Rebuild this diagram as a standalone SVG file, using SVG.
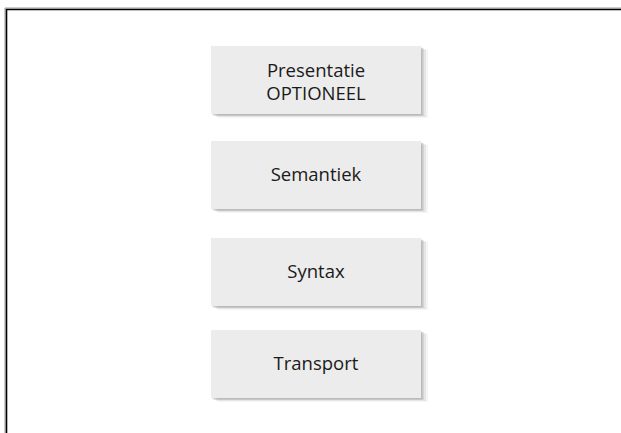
<svg xmlns="http://www.w3.org/2000/svg" width="621" height="433" viewBox="0 0 621 433">
<style>
.box{fill:#ececec}
.sh{fill:#000}
.lbl{font-family:"Open Sans","Liberation Sans",sans-serif;font-size:18.5px;fill:#1a1a1a;text-anchor:middle}
</style>
<defs>
<g id="shadow">
<rect class="sh" x="7" y="4" width="210" height="68" opacity="0.04"/>
<rect class="sh" x="5" y="3" width="210" height="68" opacity="0.06"/>
<rect class="sh" x="3" y="2" width="210" height="68" opacity="0.08"/>
<rect class="sh" x="1.5" y="1.5" width="210" height="68" opacity="0.12"/>
</g>
</defs>
<rect width="621" height="433" fill="#fff"/>
<g id="frame" fill="none">
<path d="M5 433 V8 H621" stroke="#999" stroke-width="1"/>
<path d="M6.5 433 V9.5 H621" stroke="#000" stroke-width="1.6"/>
</g>
<g id="presentatie" transform="translate(211,46)">
<use href="#shadow"/>
<rect class="box" width="210" height="68"/>
<text class="lbl" x="105" y="31">Presentatie</text>
<text class="lbl" x="105" y="54">OPTIONEEL</text>
</g>
<g id="semantiek" transform="translate(211,141)">
<use href="#shadow"/>
<rect class="box" width="210" height="68"/>
<text class="lbl" x="105" y="40">Semantiek</text>
</g>
<g id="syntax" transform="translate(211,238)">
<use href="#shadow"/>
<rect class="box" width="210" height="68"/>
<text class="lbl" x="105" y="40">Syntax</text>
</g>
<g id="transport" transform="translate(211,330)">
<use href="#shadow"/>
<rect class="box" width="210" height="68"/>
<text class="lbl" x="105" y="40">Transport</text>
</g>
<g id="connectors"/>
</svg>
